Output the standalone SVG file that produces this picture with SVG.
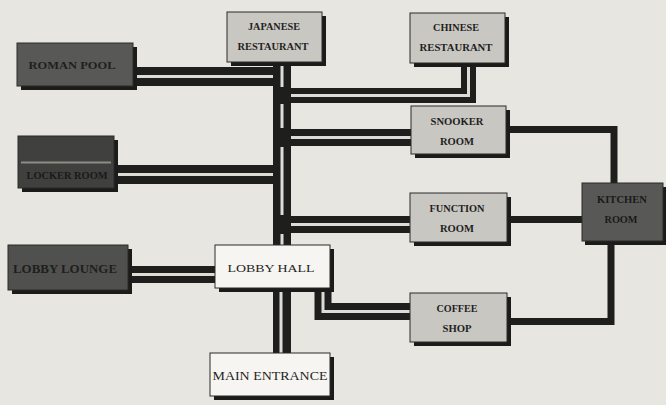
<svg xmlns="http://www.w3.org/2000/svg" width="666" height="405" viewBox="0 0 666 405">
<style>
.bg{fill:#e8e6e1}
.sh{fill:#1b1b1a}
.face{stroke:#2a2a28;stroke-width:1}
.lt{fill:#c9c7c2}
.dk{fill:#585856}
.wh{fill:#f6f5f1}
.band{fill:none;stroke:#1e1e1d;stroke-linejoin:miter;stroke-linecap:butt}
.gap{fill:none;stroke:#dddbd5;stroke-width:3;stroke-linejoin:miter;stroke-linecap:butt}
.single{fill:none;stroke:#1e1e1d;stroke-width:7;stroke-linejoin:miter;stroke-linecap:butt}
text{font-family:"Liberation Serif","Times New Roman",serif;fill:#1f1f1e;text-anchor:middle}
.b{font-weight:bold;font-size:10px}
</style>
<rect class="bg" x="0" y="0" width="666" height="405"/>
<g id="connectors">
  <path class="band" stroke-width="18" d="M282 60 V356"/>
  <path class="band" stroke-width="19" d="M130 76.5 H282"/>
  <path class="band" stroke-width="15" d="M282 95.5 H468.5 V60"/>
  <path class="band" stroke-width="17" d="M282 137.5 H414"/>
  <path class="band" stroke-width="19" d="M112 174.5 H282"/>
  <path class="band" stroke-width="17" d="M282 224.5 H412"/>
  <path class="band" stroke-width="17" d="M125 274.5 H220"/>
  <path class="band" stroke-width="17" d="M323 285 V311.5 H412"/>
  <path class="gap" d="M282 64 V87 M282 104 V128 M282 147 V215 M282 234 V250 M281 288 V355"/>
  <path class="gap" d="M133 76.5 H273"/>
  <path class="gap" d="M291 95.5 H468.5 V64"/>
  <path class="gap" d="M291 137.5 H412"/>
  <path class="gap" d="M115 174.5 H273"/>
  <path class="gap" d="M291 224.5 H411"/>
  <path class="gap" d="M128 274.5 H217"/>
  <path class="gap" d="M323 288 V311.5 H411"/>
  <path class="single" d="M506 129.5 H614 V185"/>
  <path class="single" d="M507 219.5 H584"/>
  <path class="single" d="M611 240 V321.5 H507"/>
</g>
<g id="roman-pool">
  <rect class="sh" x="21" y="47" width="116" height="43"/>
  <rect class="face dk" x="17" y="43" width="116" height="43"/>
  <text class="b" x="72" y="69" textLength="87" lengthAdjust="spacingAndGlyphs" style="font-size:11px">ROMAN POOL</text>
</g>
<g id="japanese-restaurant">
  <rect class="sh" x="231" y="16" width="95" height="50"/>
  <rect class="face lt" x="227" y="12" width="95" height="50"/>
  <text class="b" x="274" y="30" textLength="52" lengthAdjust="spacingAndGlyphs">JAPANESE</text>
  <text class="b" x="273" y="50" textLength="71" lengthAdjust="spacingAndGlyphs">RESTAURANT</text>
</g>
<g id="chinese-restaurant">
  <rect class="sh" x="414" y="17" width="95" height="50"/>
  <rect class="face lt" x="410" y="13" width="95" height="50"/>
  <text class="b" x="456" y="31" textLength="46" lengthAdjust="spacingAndGlyphs">CHINESE</text>
  <text class="b" x="456" y="51" textLength="73" lengthAdjust="spacingAndGlyphs">RESTAURANT</text>
</g>
<g id="snooker-room">
  <rect class="sh" x="415" y="110" width="95" height="48"/>
  <rect class="face lt" x="411" y="106" width="95" height="48"/>
  <text class="b" x="457" y="125" textLength="53" lengthAdjust="spacingAndGlyphs">SNOOKER</text>
  <text class="b" x="457" y="145" textLength="34" lengthAdjust="spacingAndGlyphs">ROOM</text>
</g>
<g id="locker-room">
  <rect class="sh" x="22" y="140" width="96" height="52"/>
  <rect class="face" x="18" y="136" width="96" height="52" fill="#40403e"/>
  <line x1="21" y1="162.5" x2="111" y2="162.5" stroke="#8e8c87" stroke-width="2"/>
  <text class="b" x="67" y="179" textLength="81" lengthAdjust="spacingAndGlyphs" style="fill:#1a1a19">LOCKER ROOM</text>
</g>
<g id="lobby-lounge">
  <rect class="sh" x="12" y="249" width="120" height="45"/>
  <rect class="face" x="8" y="245" width="120" height="45" fill="#50504e"/>
  <text class="b" x="65" y="273" textLength="104" lengthAdjust="spacingAndGlyphs" style="font-size:12px">LOBBY LOUNGE</text>
</g>
<g id="lobby-hall">
  <rect class="sh" x="219" y="249" width="115" height="43"/>
  <rect class="face wh" x="215" y="245" width="115" height="43"/>
  <text x="271" y="272" textLength="87" lengthAdjust="spacingAndGlyphs" style="font-size:11px">LOBBY HALL</text>
</g>
<g id="main-entrance">
  <rect class="sh" x="214" y="357" width="120" height="43"/>
  <rect class="face wh" x="210" y="353" width="120" height="43"/>
  <text x="270" y="380" textLength="115" lengthAdjust="spacingAndGlyphs" style="font-size:12px">MAIN ENTRANCE</text>
</g>
<g id="function-room">
  <rect class="sh" x="414" y="197" width="97" height="49"/>
  <rect class="face lt" x="410" y="193" width="97" height="49"/>
  <text class="b" x="457" y="212" textLength="55" lengthAdjust="spacingAndGlyphs">FUNCTION</text>
  <text class="b" x="457" y="232" textLength="34" lengthAdjust="spacingAndGlyphs">ROOM</text>
</g>
<g id="kitchen-room">
  <rect class="sh" x="585" y="187" width="81" height="58"/>
  <rect class="face dk" x="582" y="183" width="81" height="58"/>
  <text class="b" x="622" y="203" textLength="50" lengthAdjust="spacingAndGlyphs" style="fill:#1a1a19">KITCHEN</text>
  <text class="b" x="621" y="223" textLength="33" lengthAdjust="spacingAndGlyphs" style="fill:#1a1a19">ROOM</text>
</g>
<g id="coffee-shop">
  <rect class="sh" x="414" y="297" width="97" height="49"/>
  <rect class="face lt" x="410" y="293" width="97" height="49"/>
  <text class="b" x="457" y="312" textLength="41" lengthAdjust="spacingAndGlyphs">COFFEE</text>
  <text class="b" x="457" y="332" textLength="29" lengthAdjust="spacingAndGlyphs">SHOP</text>
</g>
</svg>
